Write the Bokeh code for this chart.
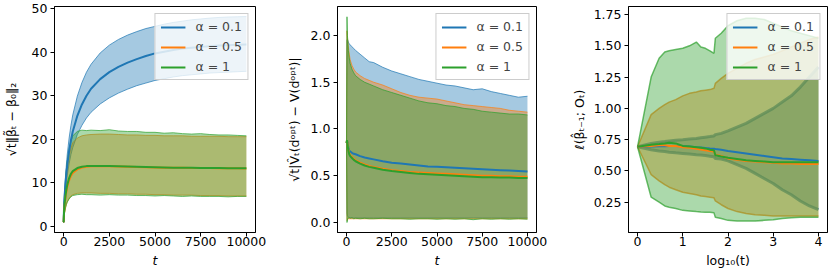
from bokeh.plotting import figure
from bokeh.layouts import row
from bokeh.models import Range1d, FixedTicker, PrintfTickFormatter
from bokeh.embed import file_html
from bokeh.resources import INLINE

# ---------------- data ----------------
alpha_labels = ["α = 0.1", "α = 0.5", "α = 1"]
colors = ["#1f77b4", "#ff7f0e", "#2ca02c"]

# Panel 1 / 2 time grid
t = [0, 25, 50, 100, 150, 200, 300, 400, 500, 750, 1000, 1250, 1500, 2000, 2500,
     3000, 3500, 4000, 4500, 5000, 5500, 6000, 6500, 7000, 7500, 8000, 8500, 9000, 9500, 10000]

# Panel 1: sqrt(t)||beta_t - beta_0||_2
p1_blue_mean = [1.0, 4.8, 6.8, 9.8, 12.2, 14.2, 17.3, 19.8, 21.8, 25.4, 28.0, 30.0, 31.6, 33.8, 35.4,
                36.6, 37.6, 38.4, 39.1, 39.7, 40.1, 40.5, 40.8, 41.0, 41.2, 41.35, 41.5, 41.6, 41.7, 41.75]
p1_blue_hi = [1.2, 5.6, 7.9, 11.4, 14.2, 16.6, 20.3, 23.2, 25.6, 29.9, 33.0, 35.4, 37.2, 39.8, 41.6,
              42.9, 43.9, 44.7, 45.4, 45.9, 46.4, 46.8, 47.1, 47.4, 47.6, 47.8, 47.95, 48.05, 48.1, 48.15]
p1_blue_lo = [0.8, 4.0, 5.7, 8.2, 10.2, 11.8, 14.4, 16.5, 18.1, 21.1, 23.2, 24.9, 26.2, 28.1, 29.5,
              30.6, 31.5, 32.3, 32.9, 33.5, 33.9, 34.3, 34.6, 34.8, 35.0, 35.2, 35.3, 35.4, 35.5, 35.6]
p1_orange_mean = [1.0, 3.4, 4.7, 6.6, 8.0, 9.1, 10.6, 11.6, 12.3, 13.1, 13.5, 13.7, 13.8, 13.85, 13.8,
                  13.75, 13.7, 13.65, 13.6, 13.55, 13.5, 13.5, 13.45, 13.4, 13.4, 13.4, 13.35, 13.35, 13.35, 13.3]
p1_orange_hi = [1.2, 4.6, 6.6, 9.6, 11.9, 13.7, 16.3, 18.0, 19.2, 20.3, 20.8, 21.0, 21.1, 21.2, 21.2,
                21.1, 21.0, 21.0, 20.9, 20.9, 20.8, 20.8, 20.8, 20.7, 20.7, 20.7, 20.7, 20.6, 20.6, 20.6]
p1_orange_lo = [0.8, 2.4, 3.2, 4.3, 5.1, 5.7, 6.5, 7.0, 7.3, 7.6, 7.7, 7.7, 7.7, 7.6, 7.6,
                7.5, 7.5, 7.4, 7.4, 7.3, 7.3, 7.2, 7.2, 7.2, 7.1, 7.1, 7.1, 7.0, 7.0, 7.0]
p1_green_mean = [1.0, 3.6, 5.0, 7.0, 8.5, 9.6, 11.1, 12.1, 12.7, 13.4, 13.7, 13.85, 13.9, 13.9, 13.85,
                 13.8, 13.75, 13.7, 13.65, 13.6, 13.55, 13.5, 13.5, 13.45, 13.4, 13.4, 13.4, 13.35, 13.35, 13.35]
p1_green_hi = [1.2, 5.0, 7.2, 10.5, 13.0, 15.0, 17.8, 19.6, 20.8, 21.8, 22.1, 22.0, 22.1, 22.0, 22.2,
               21.9, 21.8, 21.8, 21.6, 21.6, 21.4, 21.5, 21.3, 21.2, 21.3, 21.1, 21.0, 21.0, 20.9, 20.8]
p1_green_lo = [0.8, 2.3, 3.1, 4.2, 5.0, 5.6, 6.3, 6.8, 7.1, 7.3, 7.4, 7.3, 7.3, 7.2, 7.3,
               7.2, 7.2, 7.1, 7.1, 7.0, 7.1, 7.0, 6.9, 7.0, 6.9, 6.9, 6.9, 6.8, 6.9, 6.9]

# Panel 2: sqrt(t)|V_t(d_opt) - V(d_opt)|
p2_blue_mean = [0.85, 0.87, 0.86, 0.80, 0.77, 0.76, 0.745, 0.735, 0.73, 0.71, 0.695, 0.685, 0.675, 0.655, 0.64,
                0.63, 0.62, 0.61, 0.60, 0.595, 0.59, 0.585, 0.58, 0.575, 0.57, 0.565, 0.56, 0.555, 0.55, 0.545]
p2_blue_hi = [0.85, 1.95, 1.96, 1.93, 1.91, 1.90, 1.88, 1.86, 1.84, 1.80, 1.76, 1.72, 1.71, 1.66, 1.62,
              1.59, 1.56, 1.53, 1.51, 1.49, 1.47, 1.46, 1.44, 1.42, 1.43, 1.40, 1.38, 1.36, 1.34, 1.35]
p2_blue_lo = [0.85, 0.10, 0.07, 0.06, 0.05, 0.05, 0.05, 0.05, 0.05, 0.05, 0.05, 0.05, 0.05, 0.05, 0.05,
              0.05, 0.05, 0.05, 0.05, 0.05, 0.05, 0.05, 0.05, 0.05, 0.05, 0.05, 0.05, 0.05, 0.05, 0.05]
p2_orange_mean = [0.85, 0.88, 0.85, 0.78, 0.74, 0.72, 0.70, 0.68, 0.665, 0.64, 0.62, 0.605, 0.595, 0.575, 0.56,
                  0.55, 0.54, 0.535, 0.53, 0.525, 0.52, 0.515, 0.51, 0.505, 0.50, 0.50, 0.495, 0.495, 0.49, 0.49]
p2_orange_hi = [0.85, 2.05, 1.98, 1.88, 1.80, 1.74, 1.68, 1.64, 1.61, 1.57, 1.54, 1.52, 1.50, 1.47, 1.43,
                1.39, 1.36, 1.34, 1.33, 1.32, 1.30, 1.28, 1.26, 1.25, 1.24, 1.23, 1.22, 1.20, 1.19, 1.18]
p2_orange_lo = [0.85, 0.02, 0.03, 0.04, 0.04, 0.04, 0.04, 0.04, 0.04, 0.04, 0.04, 0.04, 0.04, 0.04, 0.04,
                0.04, 0.04, 0.04, 0.04, 0.04, 0.04, 0.04, 0.04, 0.04, 0.04, 0.04, 0.04, 0.04, 0.04, 0.04]
p2_green_mean = [0.85, 0.88, 0.84, 0.77, 0.73, 0.71, 0.69, 0.67, 0.655, 0.63, 0.61, 0.595, 0.585, 0.565, 0.55,
                 0.54, 0.53, 0.52, 0.515, 0.51, 0.505, 0.50, 0.495, 0.49, 0.485, 0.485, 0.48, 0.48, 0.475, 0.475]
p2_green_hi = [0.85, 2.20, 2.00, 1.84, 1.76, 1.70, 1.64, 1.60, 1.57, 1.53, 1.50, 1.48, 1.46, 1.42, 1.39,
               1.36, 1.33, 1.30, 1.28, 1.27, 1.25, 1.24, 1.22, 1.21, 1.19, 1.18, 1.17, 1.16, 1.16, 1.15]
p2_green_lo = [0.85, 0.00, 0.03, 0.05, 0.05, 0.045, 0.05, 0.04, 0.045, 0.04, 0.045, 0.04, 0.04, 0.045, 0.04,
               0.04, 0.035, 0.04, 0.04, 0.035, 0.04, 0.035, 0.04, 0.03, 0.04, 0.035, 0.04, 0.035, 0.04, 0.035]

# Panel 3: loss vs log10(t)
logt = [0.0, 0.301, 0.477, 0.602, 0.699, 0.845, 1.0, 1.15, 1.3, 1.4, 1.5, 1.6, 1.69, 1.72, 1.85,
        2.0, 2.2, 2.4, 2.6, 2.8, 3.0, 3.2, 3.4, 3.6, 3.8, 4.0]
p3_blue_mean = [0.693, 0.695, 0.697, 0.698, 0.699, 0.70, 0.698, 0.695, 0.69, 0.687, 0.683, 0.68, 0.678, 0.675, 0.67,
                0.66, 0.65, 0.64, 0.63, 0.62, 0.61, 0.60, 0.595, 0.59, 0.585, 0.58]
p3_blue_hi = [0.693, 0.72, 0.73, 0.735, 0.74, 0.745, 0.75, 0.755, 0.76, 0.765, 0.77, 0.775, 0.78, 0.79, 0.80,
              0.82, 0.85, 0.88, 0.92, 0.96, 1.00, 1.05, 1.10, 1.17, 1.25, 1.33]
p3_blue_lo = [0.693, 0.67, 0.66, 0.655, 0.65, 0.645, 0.64, 0.635, 0.63, 0.627, 0.623, 0.618, 0.613, 0.60, 0.595,
              0.58, 0.55, 0.52, 0.48, 0.44, 0.40, 0.35, 0.31, 0.26, 0.22, 0.19]
p3_orange_mean = [0.693, 0.70, 0.705, 0.705, 0.70, 0.70, 0.69, 0.685, 0.678, 0.672, 0.665, 0.66, 0.655, 0.63, 0.62,
                  0.60, 0.59, 0.58, 0.575, 0.57, 0.565, 0.56, 0.56, 0.555, 0.555, 0.555]
p3_orange_hi = [0.693, 0.95, 1.00, 1.03, 1.05, 1.07, 1.10, 1.12, 1.13, 1.14, 1.145, 1.15, 1.16, 1.20, 1.24,
                1.28, 1.32, 1.36, 1.39, 1.41, 1.43, 1.46, 1.49, 1.52, 1.55, 1.57]
p3_orange_lo = [0.693, 0.47, 0.42, 0.39, 0.37, 0.35, 0.33, 0.32, 0.31, 0.30, 0.295, 0.29, 0.285, 0.26, 0.23,
                0.20, 0.175, 0.16, 0.15, 0.145, 0.14, 0.14, 0.14, 0.14, 0.14, 0.14]
p3_green_mean = [0.693, 0.71, 0.715, 0.72, 0.725, 0.72, 0.70, 0.695, 0.69, 0.685, 0.68, 0.67, 0.665, 0.625, 0.615,
                 0.605, 0.595, 0.585, 0.58, 0.575, 0.57, 0.57, 0.57, 0.57, 0.57, 0.57]
p3_green_hi = [0.693, 1.25, 1.40, 1.45, 1.46, 1.47, 1.48, 1.50, 1.53, 1.49, 1.48, 1.46, 1.44, 1.56, 1.60,
               1.66, 1.70, 1.72, 1.72, 1.71, 1.68, 1.65, 1.62, 1.60, 1.58, 1.56]
p3_green_lo = [0.693, 0.29, 0.25, 0.22, 0.21, 0.20, 0.185, 0.18, 0.175, 0.172, 0.17, 0.17, 0.165, 0.13, 0.12,
               0.105, 0.10, 0.10, 0.10, 0.105, 0.11, 0.12, 0.125, 0.13, 0.13, 0.13]

p1_xticks = [0, 2500, 5000, 7500, 10000]
p1_yticks = [0, 10, 20, 30, 40, 50]
p2_yticks = [0.0, 0.5, 1.0, 1.5, 2.0]
p3_xticks = [0, 1, 2, 3, 4]
p3_yticks = [0.25, 0.50, 0.75, 1.00, 1.25, 1.50, 1.75]

FONT = "DejaVu Sans"
FS = "12.5px"
H = 275


def make_fig(width, bl, br, xr, yr, xticks, yticks, xfmt, yfmt, xlabel, ylabel, italic_x, ylab_standoff):
    p = figure(width=width, height=H, x_range=Range1d(*xr), y_range=Range1d(*yr),
               output_backend="svg", toolbar_location=None,
               min_border_left=bl, min_border_right=br, min_border_top=6, min_border_bottom=43)
    p.xgrid.visible = False
    p.ygrid.visible = False
    p.outline_line_color = "black"
    p.outline_line_width = 1
    p.outline_line_alpha = 1
    p.background_fill_color = "white"
    p.border_fill_color = "white"
    p.xaxis.ticker = FixedTicker(ticks=xticks)
    p.yaxis.ticker = FixedTicker(ticks=yticks)
    p.xaxis.formatter = PrintfTickFormatter(format=xfmt)
    p.yaxis.formatter = PrintfTickFormatter(format=yfmt)
    for ax in (p.xaxis[0], p.yaxis[0]):
        ax.axis_line_color = "black"
        ax.axis_line_width = 1
        ax.major_tick_line_color = "black"
        ax.major_tick_out = 4
        ax.major_tick_in = 0
        ax.minor_tick_line_color = None
        ax.major_label_text_font = FONT
        ax.major_label_text_font_size = FS
        ax.major_label_text_color = "black"
        ax.axis_label_text_font = FONT
        ax.axis_label_text_font_size = FS
        ax.axis_label_text_color = "black"
    p.xaxis.major_label_standoff = 0
    p.xaxis.axis_label_standoff = 4
    p.yaxis.major_label_standoff = 3
    p.yaxis.axis_label_standoff = ylab_standoff
    p.xaxis.axis_label = xlabel
    p.xaxis.axis_label_text_font_style = "italic" if italic_x else "normal"
    p.yaxis.axis_label = ylabel
    p.yaxis.axis_label_text_font_style = "normal"
    return p


def add_series(p, x, series, edge_width=1.0, blue_edge_width=1.0):
    for i, ((lo, hi, mean), c) in enumerate(zip(series, colors)):
        ew = blue_edge_width if i == 0 else edge_width
        p.varea(x=x, y1=lo, y2=hi, fill_color=c, fill_alpha=0.4)
        p.line(x, hi, line_color=c, line_alpha=0.7, line_width=ew)
        p.line(x, lo, line_color=c, line_alpha=0.7, line_width=ew)
    for (lo, hi, mean), c, lab in zip(series, colors, alpha_labels):
        p.line(x, mean, line_color=c, line_width=2, legend_label=lab)
    lg = p.legend[0]
    lg.location = "top_right"
    lg.margin = 7
    lg.padding = 5
    lg.spacing = 5
    lg.glyph_width = 25
    lg.glyph_height = 14
    lg.label_height = 14
    lg.label_standoff = 10
    lg.label_text_font = FONT
    lg.label_text_font_size = FS
    lg.background_fill_color = "white"
    lg.background_fill_alpha = 0.8
    lg.border_line_color = "#cccccc"
    lg.border_line_alpha = 1


p1 = make_fig(283, 52, 28, (-500, 10500), (-1.376, 50.46), p1_xticks, p1_yticks, "%d", "%d",
              "t", "√t‖β̃ₜ − β₀‖₂", True, 10)
add_series(p1, t, [(p1_blue_lo, p1_blue_hi, p1_blue_mean),
                   (p1_orange_lo, p1_orange_hi, p1_orange_mean),
                   (p1_green_lo, p1_green_hi, p1_green_mean)])

p2 = make_fig(285, 50, 32, (-500, 10500), (-0.107, 2.310), p1_xticks, p2_yticks, "%d", "%.1f",
              "t", "√t|V̂ₜ(dᵒᵖᵗ) − V(dᵒᵖᵗ)|", True, 6)
add_series(p2, t, [(p2_blue_lo, p2_blue_hi, p2_blue_mean),
                   (p2_orange_lo, p2_orange_hi, p2_orange_mean),
                   (p2_green_lo, p2_green_hi, p2_green_mean)])

p3 = make_fig(261, 55, 2, (-0.2, 4.2), (0.008, 1.814), p3_xticks, p3_yticks, "%d", "%.2f",
              "log₁₀(t)", "ℓ(β̂ₜ₋₁; Oₜ)", False, 4)
add_series(p3, logt, [(p3_blue_lo, p3_blue_hi, p3_blue_mean),
                      (p3_orange_lo, p3_orange_hi, p3_orange_mean),
                      (p3_green_lo, p3_green_hi, p3_green_mean)],
           edge_width=1.5, blue_edge_width=3)

layout = row(p1, p2, p3, spacing=0)
open("out.html", "w").write(file_html(layout, INLINE))
